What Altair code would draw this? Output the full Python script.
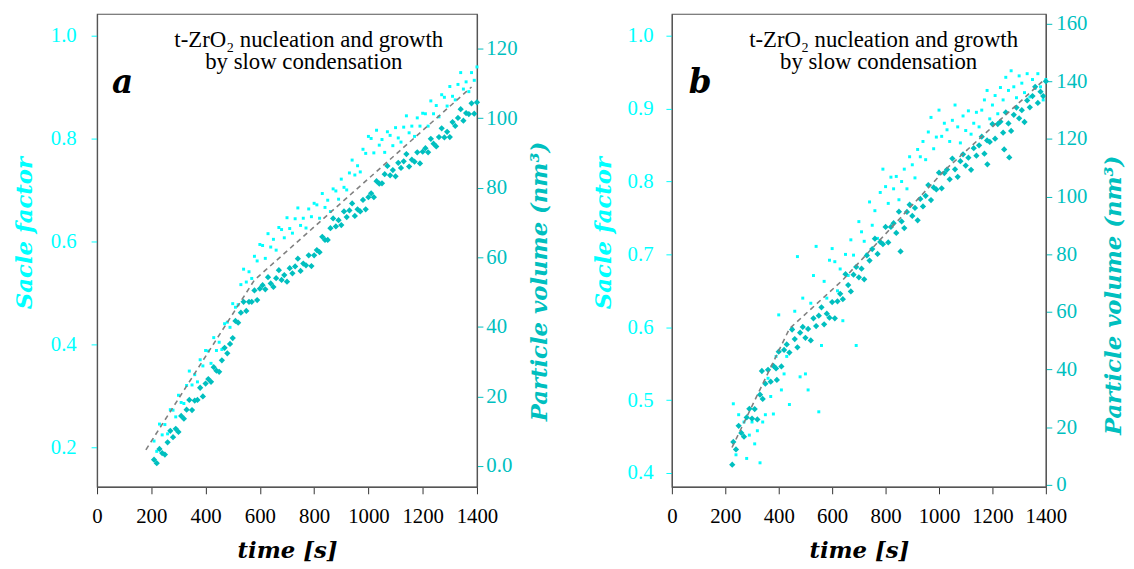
import altair as alt
import pandas as pd

FONT_T = "Liberation Serif"
FONT_B = "DejaVu Serif"
CYAN = "#00FFFF"
TEAL = "#00BFBF"
GRAY = "#555555"

X_TICKS = [0, 200, 400, 600, 800, 1000, 1200, 1400]
TITLE_1 = "t-ZrO\u2082 nucleation and growth"
TITLE_2 = "by slow condensation"

# ---------------- panel a ----------------
TIME_A = [210, 220, 230, 240, 250, 260, 270, 280, 290, 300,
          310, 320, 330, 340, 350, 360, 370, 380, 390, 400,
          410, 420, 430, 440, 450, 460, 470, 480, 490, 500,
          510, 520, 530, 540, 550, 560, 570, 580, 590, 600,
          610, 620, 630, 640, 650, 660, 670, 680, 690, 700,
          710, 720, 730, 740, 750, 760, 770, 780, 790, 800,
          810, 820, 830, 840, 850, 860, 870, 880, 890, 900,
          910, 920, 930, 940, 950, 960, 970, 980, 990, 1000,
          1010, 1020, 1030, 1040, 1050, 1060, 1070, 1080, 1090, 1100,
          1110, 1120, 1130, 1140, 1150, 1160, 1170, 1180, 1190, 1200,
          1210, 1220, 1230, 1240, 1250, 1260, 1270, 1280, 1290, 1300,
          1310, 1320, 1330, 1340, 1350, 1360, 1370, 1380, 1390, 1400]
VOL_A = [1.8, 0.8, 4.9, 3.7, 3.3, 6.8, 10.1, 8.3, 10.7, 9.8,
         14.4, 13.6, 16.2, 19.0, 16.1, 18.8, 19.0, 22.5, 20.0, 23.7,
         25.0, 24.2, 28.4, 27.4, 27.1, 30.4, 34.0, 32.4, 35.1, 36.8,
         41.7, 41.2, 44.1, 47.2, 44.6, 47.2, 47.2, 50.5, 47.7, 51.0,
         52.0, 50.8, 54.3, 52.5, 51.5, 54.0, 56.3, 53.5, 54.9, 53.0,
         56.9, 55.4, 57.4, 59.6, 56.1, 58.2, 57.7, 60.6, 57.5, 60.6,
         62.1, 61.5, 65.9, 65.0, 65.0, 68.4, 71.2, 68.9, 70.7, 69.3,
         73.2, 71.6, 73.5, 75.5, 71.9, 73.8, 73.2, 76.5, 73.8, 77.3,
         78.4, 77.3, 81.9, 81.2, 81.3, 83.9, 86.3, 83.6, 85.1, 83.3,
         87.2, 85.7, 87.6, 89.7, 86.1, 88.1, 87.5, 90.2, 87.0, 90.4,
         91.4, 90.2, 94.1, 92.7, 91.9, 94.6, 97.1, 94.5, 96.1, 94.6,
         98.9, 97.8, 100.1, 102.6, 99.3, 101.5, 101.2, 104.3, 101.3, 104.6]
SF_A = [0.212, 0.192, 0.245, 0.224, 0.244, 0.226, 0.273, 0.272, 0.259, 0.301,
        0.287, 0.285, 0.320, 0.348, 0.321, 0.341, 0.327, 0.370, 0.358, 0.388,
        0.387, 0.363, 0.413, 0.388, 0.404, 0.390, 0.440, 0.443, 0.433, 0.479,
        0.472, 0.477, 0.516, 0.546, 0.521, 0.541, 0.528, 0.571, 0.562, 0.594,
        0.592, 0.567, 0.615, 0.589, 0.604, 0.583, 0.627, 0.623, 0.607, 0.646,
        0.625, 0.616, 0.644, 0.665, 0.631, 0.645, 0.626, 0.663, 0.648, 0.674,
        0.671, 0.645, 0.693, 0.666, 0.680, 0.658, 0.702, 0.698, 0.682, 0.721,
        0.705, 0.700, 0.733, 0.758, 0.729, 0.747, 0.735, 0.779, 0.771, 0.804,
        0.800, 0.772, 0.816, 0.787, 0.798, 0.773, 0.813, 0.806, 0.786, 0.821,
        0.801, 0.793, 0.822, 0.844, 0.811, 0.824, 0.804, 0.840, 0.824, 0.849,
        0.848, 0.824, 0.873, 0.848, 0.864, 0.842, 0.885, 0.880, 0.863, 0.901,
        0.882, 0.875, 0.905, 0.928, 0.896, 0.910, 0.891, 0.928, 0.913, 0.939]
FIT_A_T = [180, 580, 1380]
FIT_A_V = [0.195, 0.525, 0.900]

# ---------------- panel b ----------------
TIME_B = [230, 240, 250, 260, 270, 280, 290, 300, 310, 320,
          330, 340, 350, 360, 370, 380, 390, 400, 410, 420,
          430, 440, 450, 460, 470, 480, 490, 500, 510, 520,
          530, 540, 550, 560, 570, 580, 590, 600, 610, 620,
          630, 640, 650, 660, 670, 680, 690, 700, 710, 720,
          730, 740, 750, 760, 770, 780, 790, 800, 810, 820,
          830, 840, 850, 860, 870, 880, 890, 900, 910, 920,
          930, 940, 950, 960, 970, 980, 990, 1000, 1010, 1020,
          1030, 1040, 1050, 1060, 1070, 1080, 1090, 1100, 1110, 1120,
          1130, 1140, 1150, 1160, 1170, 1180, 1190, 1200, 1210, 1220,
          1230, 1240, 1250, 1260, 1270, 1280, 1290, 1300, 1310, 1320,
          1330, 1340, 1350, 1360, 1370, 1380, 1390, 1400]
VOL_B = [14.9, 12.3, 20.5, 18.0, 16.7, 23.4, 26.4, 23.0, 26.3, 22.7,
         31.3, 29.8, 35.1, 39.9, 35.8, 41.3, 40.4, 46.2, 41.1, 46.8,
         48.7, 45.9, 53.9, 50.6, 47.7, 52.8, 54.8, 51.0, 54.1, 50.1,
         57.8, 55.1, 58.7, 61.6, 55.7, 59.4, 58.0, 63.4, 57.8, 63.7,
         66.3, 64.4, 73.1, 69.3, 67.1, 72.9, 75.6, 72.0, 75.0, 71.3,
         79.6, 77.8, 81.8, 85.4, 80.1, 84.3, 83.5, 89.5, 84.1, 89.5,
         90.8, 87.4, 94.8, 91.4, 89.1, 94.7, 97.2, 93.3, 96.1, 91.8,
         99.2, 96.6, 100.3, 104.0, 98.8, 103.2, 102.5, 108.3, 102.9, 108.2,
         109.4, 106.0, 113.2, 109.5, 106.9, 112.3, 114.7, 110.8, 113.5, 109.3,
         116.8, 114.2, 117.8, 120.8, 114.9, 119.5, 119.0, 125.2, 120.1, 125.2,
         126.0, 122.2, 129.2, 125.4, 122.8, 128.4, 130.9, 127.2, 130.0, 125.9,
         133.4, 131.0, 134.9, 138.1, 132.5, 136.4, 134.9, 140.0]
TIME_B_OUT = [226, 337, 393, 856, 1181, 1244, 1263]
VOL_B_OUT = [7.0, 39.5, 36.4, 81.0, 111.2, 116.4, 113.6]
SF_B = [0.495, 0.425, 0.480, 0.455, 0.470, 0.420, 0.452, 0.470, 0.440, 0.458,
        0.414, 0.470, 0.480, 0.530, 0.505, 0.481, 0.560, 0.617, 0.514, 0.536,
        0.560, 0.494, 0.598, 0.622, 0.697, 0.532, 0.640, 0.536, 0.514, 0.633,
        0.671, 0.711, 0.484, 0.575, 0.663, 0.640, 0.692, 0.708, 0.690, 0.650,
        0.680, 0.609, 0.700, 0.671, 0.720, 0.699, 0.575, 0.745, 0.731, 0.718,
        0.700, 0.772, 0.740, 0.760, 0.722, 0.785, 0.817, 0.793, 0.770, 0.806,
        0.790, 0.807, 0.775, 0.800, 0.817, 0.790, 0.834, 0.823, 0.805, 0.844,
        0.834, 0.855, 0.830, 0.868, 0.888, 0.845, 0.861, 0.898, 0.862, 0.880,
        0.871, 0.855, 0.884, 0.905, 0.875, 0.853, 0.890, 0.870, 0.897, 0.865,
        0.880, 0.895, 0.875, 0.898, 0.912, 0.925, 0.886, 0.905, 0.918, 0.893,
        0.929, 0.912, 0.943, 0.925, 0.952, 0.930, 0.915, 0.945, 0.935, 0.922,
        0.948, 0.916, 0.940, 0.928, 0.948, 0.930, 0.912, 0.940]
FIT_B_T = [225, 440, 640, 1020, 1395]
FIT_B_V = [0.435, 0.598, 0.665, 0.815, 0.940]


def make_panel(P):
    xs = alt.Scale(domain=[0, 1400], nice=False, zero=False)
    x_enc = alt.X("t:Q", scale=xs,
                  axis=alt.Axis(values=X_TICKS, format="d", title="time [s]",
                                labelColor="#000000", tickColor="#333333",
                                titleColor="#000000", labelPadding=12, tickSize=7,
                                labelFlush=False, labelOverlap=False, titleY=71,
                                titleBaseline="alphabetic"))
    sf_scale = alt.Scale(domain=P["sf_dom"], nice=False, zero=False)
    y_left = alt.Y("v:Q", scale=sf_scale,
                   axis=alt.Axis(orient="left", values=P["sf_ticks"], format=".1f",
                                 title="Sacle factor", labelColor=CYAN, tickColor=CYAN,
                                 titleColor=CYAN, labelPadding=P["lpad"], tickSize=6,
                                 titleX=P["ltx"], titleY=P["lty"], titleAngle=270,
                                 titleAlign="center", titleBaseline="middle",
                                 labelOverlap=False, labelFlush=False))
    vol_axis = dict(orient="right", values=P["vol_ticks"], format="d",
                    title="Particle volume (nm\u00b3)",
                    labelColor=TEAL, tickColor=TEAL, titleColor=TEAL,
                    labelPadding=P["rpad"], tickSize=6, titleX=P["rtx"], titleY=P["rty"],
                    titleAngle=270, titleAlign="center", titleBaseline="middle",
                    labelOverlap=False, labelFlush=False)
    if P["vol_expr"]:
        vol_axis["labelExpr"] = P["vol_expr"]
    y_right = alt.Y("V:Q", scale=alt.Scale(domain=P["vol_dom"], nice=False, zero=False),
                    axis=alt.Axis(**vol_axis))

    sf_df = pd.DataFrame({"t": P["t_sf"], "v": P["sf"]})
    vol_df = pd.DataFrame({"t": P["t_vol"], "V": P["vol"]})
    fit_df = pd.DataFrame({"t": P["fit_t"], "v": P["fit_v"]})

    cyan = alt.Chart(sf_df).mark_square(size=9, color=CYAN, opacity=1).encode(x=x_enc, y=y_left)
    teal = alt.Chart(vol_df).mark_point(shape="diamond", filled=True, size=40, color=TEAL,
                                        opacity=1).encode(x=x_enc, y=y_right)
    fit = alt.Chart(fit_df).mark_line(color="#808080", strokeDash=[5, 4], strokeWidth=1.6).encode(
        x=x_enc, y=alt.Y("v:Q", scale=sf_scale, axis=None))

    t1 = alt.Chart(pd.DataFrame({"s": [TITLE_1]})).mark_text(
        font=FONT_T, fontSize=23, align="center", baseline="alphabetic", color="#000000"
    ).encode(text="s:N", x=alt.value(214), y=alt.value(33))
    t2 = alt.Chart(pd.DataFrame({"s": [TITLE_2]})).mark_text(
        font=FONT_T, fontSize=23, align="center", baseline="alphabetic", color="#000000"
    ).encode(text="s:N", x=alt.value(209), y=alt.value(56))
    lt = alt.Chart(pd.DataFrame({"s": [P["letter"]]})).mark_text(
        font=FONT_B, fontSize=33, fontWeight="bold", fontStyle="italic", align="left",
        baseline="alphabetic", color="#000000"
    ).encode(text="s:N", x=alt.value(P["lx"]), y=alt.value(80))

    return alt.layer(cyan, teal, fit, t1, t2, lt).resolve_scale(y="independent").properties(
        width=P["width"], height=478)


pa = make_panel(dict(
    t_sf=TIME_A, sf=SF_A, t_vol=TIME_A, vol=VOL_A, fit_t=FIT_A_T, fit_v=FIT_A_V,
    sf_dom=[0.123, 1.042], sf_ticks=[0.2, 0.4, 0.6, 0.8, 1.0],
    vol_dom=[-6, 130], vol_ticks=[0, 20, 40, 60, 80, 100, 120],
    vol_expr="datum.value == 0 ? '0.0' : datum.label",
    letter="a", lx=15, width=384, lpad=15, rpad=3, ltx=-73, lty=221, rtx=63, rty=270))

pb = make_panel(dict(
    t_sf=TIME_B, sf=SF_B, t_vol=TIME_B + TIME_B_OUT, vol=VOL_B + VOL_B_OUT,
    fit_t=FIT_B_T, fit_v=FIT_B_V,
    sf_dom=[0.381, 1.030], sf_ticks=[0.4, 0.5, 0.6, 0.7, 0.8, 0.9, 1.0],
    vol_dom=[-0.7, 163.4], vol_ticks=[0, 20, 40, 60, 80, 100, 120, 140, 160],
    vol_expr=None,
    letter="b", lx=17, width=378, lpad=13, rpad=4, ltx=-69, lty=221, rtx=68, rty=284))

chart = alt.hconcat(pa, pb, spacing=197, bounds="flush").properties(
    padding={"left": 5, "top": 1, "right": 0, "bottom": 0}
).configure_view(stroke=GRAY, strokeWidth=1.2).configure_axis(
    labelFont=FONT_T, labelFontSize=21, titleFont=FONT_B, titleFontSize=23,
    titleFontWeight="bold", titleFontStyle="italic", domainColor=GRAY, domainWidth=1.2,
    grid=False)

chart.save("out.html", embed_options={"renderer": "svg", "actions": False})
